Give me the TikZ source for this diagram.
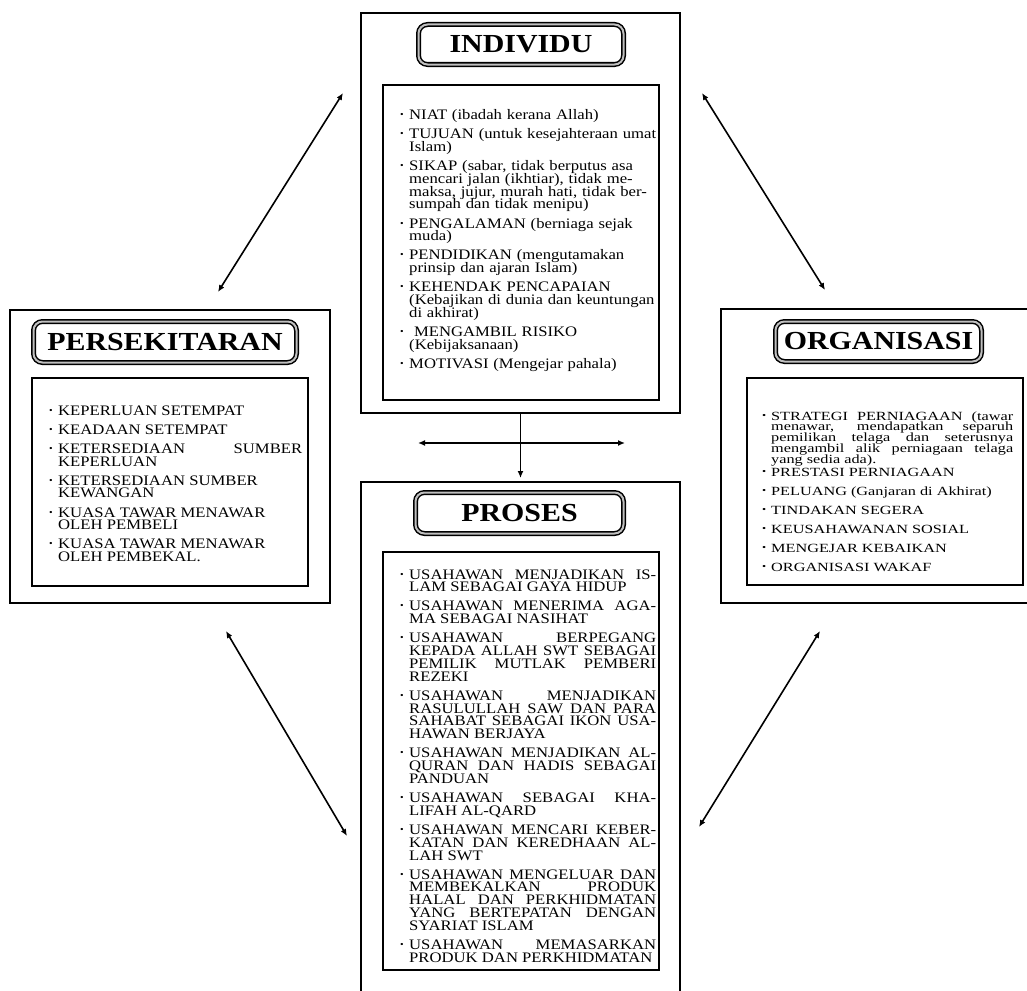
\documentclass[tikz,border=0pt]{standalone}
\usepackage{fontspec}
\setmainfont{Liberation Serif}[FakeStretch=1.15]
\newfontfamily\orgfont{Liberation Serif}[FakeStretch=1.3]
\usetikzlibrary{arrows.meta}

\tikzset{
  outerframe/.style={draw, line width=2.2pt, inner sep=0pt},
  listbox/.style={draw, line width=2.8pt, inner sep=0pt},
  titlebox/.style={draw, rounded corners=9pt, line width=1.5pt, double=gray!50, double distance=2pt, inner sep=0pt, font=\fontsize{26}{26}\selectfont\bfseries},
  listtext/.style={anchor=north west, inner sep=0pt, font=\fontsize{14.5}{12.8}\selectfont,
    execute at begin node={\lineskiplimit=-20pt\tolerance=10000\hyphenpenalty=10000\exhyphenpenalty=10000}},
  duallink/.style={{Latex[length=7pt,width=6pt]}-{Latex[length=7pt,width=6pt]}, line width=1.6pt}
}
\newcommand{\dotmark}{\raisebox{0.3ex}{\fontsize{9}{9}\selectfont\textbullet}}
\newcommand{\pointitem}[2][6.3pt]{\par\hangindent=9pt\hangafter=1\noindent\hbox to 9pt{\dotmark\hfil}#2\par\vspace{#1}}

\begin{document}
\begin{tikzpicture}[x=1pt,y=-1pt]
  \useasboundingbox (0,0) rectangle (1027,990);
  \clip (0,0) rectangle (1027,990);
  % outer frames
  \node[outerframe, minimum width=319pt, minimum height=400pt] (individu) at (520.5,213) {};
  \node[outerframe, minimum width=320pt, minimum height=293pt] (persekitaran) at (170,456.5) {};
  \node[outerframe, minimum width=319pt, minimum height=294pt] (organisasi) at (880.5,456) {};
  \node[outerframe, minimum width=319pt, minimum height=528pt] (proses) at (520.5,746) {};
  % titles
  \node[titlebox, minimum width=205pt, minimum height=40pt] (individu-title) at (521,44.5) {INDIVIDU};
  \node[titlebox, minimum width=263pt, minimum height=41pt] (persekitaran-title) at (165,342) {PERSEKITARAN};
  \node[titlebox, minimum width=206pt, minimum height=40pt] (organisasi-title) at (878.5,341.5) {ORGANISASI};
  \node[titlebox, minimum width=208pt, minimum height=41pt] (proses-title) at (519.5,513) {PROSES};
  % list boxes
  \node[listbox, minimum width=276pt, minimum height=315pt] (individu-box) at (521,242.5) {};
  \node[listbox, minimum width=276pt, minimum height=208pt] (persekitaran-box) at (170,482) {};
  \node[listbox, minimum width=276pt, minimum height=207pt] (organisasi-box) at (885,481.5) {};
  \node[listbox, minimum width=276pt, minimum height=418pt] (proses-box) at (521,761) {};
  % lists
  \node[listtext, text width=257pt, align=left] (individu-list) at (400,106.5) {%
    \pointitem{NIAT (ibadah kerana Allah)}
    \pointitem{TUJUAN (untuk kesejahteraan umat\newline Islam)}
    \pointitem{SIKAP (sabar, tidak berputus asa\newline mencari jalan (ikhtiar), tidak me-\newline maksa, jujur, murah hati, tidak ber-\newline sumpah dan tidak menipu)}
    \pointitem{PENGALAMAN (berniaga sejak\newline muda)}
    \pointitem{PENDIDIKAN (mengutamakan\newline prinsip dan ajaran Islam)}
    \pointitem{KEHENDAK PENCAPAIAN\newline (Kebajikan di dunia dan keuntungan\newline di akhirat)}
    \pointitem{\ MENGAMBIL RISIKO\newline (Kebijaksanaan)}
    \pointitem{MOTIVASI (Mengejar pahala)}};
  \node[listtext, text width=253pt, align=justify] (persekitaran-list) at (49,402) {%
    \pointitem{KEPERLUAN SETEMPAT}
    \pointitem{KEADAAN SETEMPAT}
    \pointitem{KETERSEDIAAN SUMBER\linebreak KEPERLUAN}
    \pointitem{KETERSEDIAAN SUMBER\newline KEWANGAN}
    \pointitem{KUASA TAWAR MENAWAR\newline OLEH PEMBELI}
    \pointitem{KUASA TAWAR MENAWAR\newline OLEH PEMBEKAL.}};
  \node[listtext, text width=251pt, align=justify, font=\orgfont\fontsize{12.5}{10.8}\selectfont] (organisasi-list) at (762,409) {%
    \pointitem[2.2pt]{STRATEGI PERNIAGAAN (tawar\linebreak menawar, mendapatkan separuh\linebreak pemilikan telaga dan seterusnya\linebreak mengambil alik perniagaan telaga\linebreak yang sedia ada).}
    \pointitem[8.2pt]{PRESTASI PERNIAGAAN}
    \pointitem[8.2pt]{PELUANG (Ganjaran di Akhirat)}
    \pointitem[8.2pt]{TINDAKAN SEGERA}
    \pointitem[8.2pt]{KEUSAHAWANAN SOSIAL}
    \pointitem[8.2pt]{MENGEJAR KEBAIKAN}
    \pointitem[8.2pt]{ORGANISASI WAKAF}};
  \node[listtext, text width=256pt, align=justify] (proses-list) at (400,566) {%
    \pointitem{USAHAWAN MENJADIKAN IS-\linebreak LAM SEBAGAI GAYA HIDUP}
    \pointitem{USAHAWAN MENERIMA AGA-\linebreak MA SEBAGAI NASIHAT}
    \pointitem{USAHAWAN BERPEGANG\linebreak KEPADA ALLAH SWT SEBAGAI\linebreak PEMILIK MUTLAK PEMBERI\linebreak REZEKI}
    \pointitem{USAHAWAN MENJADIKAN\linebreak RASULULLAH SAW DAN PARA\linebreak SAHABAT SEBAGAI IKON USA-\linebreak HAWAN BERJAYA}
    \pointitem{USAHAWAN MENJADIKAN AL-\linebreak QURAN DAN HADIS SEBAGAI\linebreak PANDUAN}
    \pointitem{USAHAWAN SEBAGAI KHA-\linebreak LIFAH AL-QARD}
    \pointitem{USAHAWAN MENCARI KEBER-\linebreak KATAN DAN KEREDHAAN AL-\linebreak LAH SWT}
    \pointitem{USAHAWAN MENGELUAR DAN\linebreak MEMBEKALKAN PRODUK\linebreak HALAL DAN PERKHIDMATAN\linebreak YANG BERTEPATAN DENGAN\linebreak SYARIAT ISLAM}
    \pointitem{USAHAWAN MEMASARKAN\linebreak PRODUK DAN PERKHIDMATAN}};
  % connectors
  \coordinate (nw-low) at (218,292);
  \coordinate (nw-high) at (343,93);
  \coordinate (ne-high) at (702,93);
  \coordinate (ne-low) at (825,290);
  \coordinate (mid-left) at (418,443);
  \coordinate (mid-right) at (625,443);
  \coordinate (proses-in) at (520.5,478);
  \coordinate (sw-high) at (226,631);
  \coordinate (sw-low) at (347,836);
  \coordinate (se-high) at (820,631);
  \coordinate (se-low) at (699,827);
  \draw[duallink] (nw-low) -- (nw-high);
  \draw[duallink] (ne-high) -- (ne-low);
  \draw[duallink] (mid-left) -- (mid-right);
  \draw[-{Latex[length=7pt,width=6pt]}, line width=1.6pt] (individu.south) -- (proses-in);
  \draw[duallink] (sw-high) -- (sw-low);
  \draw[duallink] (se-high) -- (se-low);
\end{tikzpicture}
\end{document}
